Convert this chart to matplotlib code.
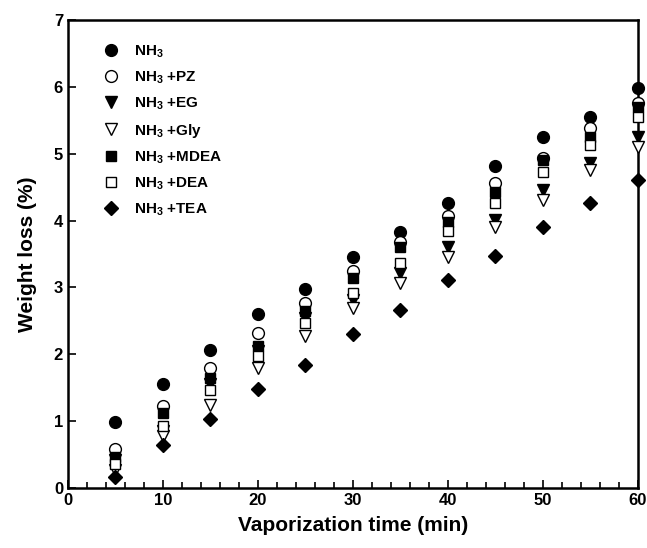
import matplotlib
matplotlib.use("Agg")
import matplotlib.pyplot as plt
from matplotlib.ticker import MultipleLocator

plt.rcParams['font.family'] = 'Liberation Sans'
plt.rcParams['font.weight'] = 'bold'
plt.rcParams['mathtext.fontset'] = 'custom'
plt.rcParams['mathtext.rm'] = 'Liberation Sans:bold'
plt.rcParams['mathtext.default'] = 'rm'

time = [5, 10, 15, 20, 25, 30, 35, 40, 45, 50, 55, 60]

nh3 = [0.99, 1.56, 2.07, 2.60, 2.98, 3.46, 3.83, 4.27, 4.81, 5.25, 5.55, 5.98]
pz = [0.59, 1.23, 1.79, 2.32, 2.76, 3.24, 3.68, 4.07, 4.56, 4.93, 5.38, 5.76]
eg = [0.42, 0.85, 1.56, 2.05, 2.55, 2.81, 3.21, 3.61, 4.01, 4.46, 4.86, 5.25]
gly = [0.27, 0.78, 1.24, 1.79, 2.28, 2.69, 3.06, 3.46, 3.90, 4.31, 4.75, 5.10]
mdea = [0.47, 1.12, 1.64, 2.13, 2.64, 3.14, 3.61, 3.98, 4.43, 4.90, 5.25, 5.70]
dea = [0.36, 0.93, 1.47, 1.97, 2.47, 2.92, 3.36, 3.85, 4.26, 4.72, 5.13, 5.55]
tea = [0.17, 0.64, 1.03, 1.48, 1.84, 2.30, 2.66, 3.11, 3.47, 3.90, 4.26, 4.61]

series = [
    ('NH$_3$', nh3, 'o', 'black'),
    ('NH$_3$ +PZ', pz, 'o', 'white'),
    ('NH$_3$ +EG', eg, 'v', 'black'),
    ('NH$_3$ +Gly', gly, 'v', 'white'),
    ('NH$_3$ +MDEA', mdea, 's', 'black'),
    ('NH$_3$ +DEA', dea, 's', 'white'),
    ('NH$_3$ +TEA', tea, 'D', 'black'),
]
sizes = {'o': 8.5, 'v': 8.5, 's': 7, 'D': 7}

fig = plt.figure(figsize=(6.47, 5.48), dpi=100)
ax = fig.add_axes([0.105, 0.1095, 0.881, 0.854])

for label, vals, m, fc in series:
    ax.plot(time, vals, linestyle='none', marker=m, markersize=sizes[m],
            markerfacecolor=fc, markeredgecolor='black', markeredgewidth=1.0,
            label=label, clip_on=False, zorder=3)

ax.set_xlim(0, 60)
ax.set_ylim(0, 7)
ax.xaxis.set_major_locator(MultipleLocator(10))
ax.xaxis.set_minor_locator(MultipleLocator(2))
ax.yaxis.set_major_locator(MultipleLocator(1))
ax.tick_params(which='both', direction='in', top=False, right=False,
               labelsize=12, width=1.2)
ax.tick_params(which='major', length=6)
ax.tick_params(which='minor', length=4)
for s in ax.spines.values():
    s.set_linewidth(1.8)

ax.set_xlabel('Vaporization time (min)', fontsize=15, fontweight='bold', labelpad=6)
ax.set_ylabel('Weight loss (%)', fontsize=15, fontweight='bold', labelpad=12)

leg = ax.legend(loc='upper left', bbox_to_anchor=(0.035, 0.98), frameon=False,
                fontsize=11, handletextpad=0.9, labelspacing=0.64,
                handlelength=1.2)

fig.savefig('out.png', dpi=100)
